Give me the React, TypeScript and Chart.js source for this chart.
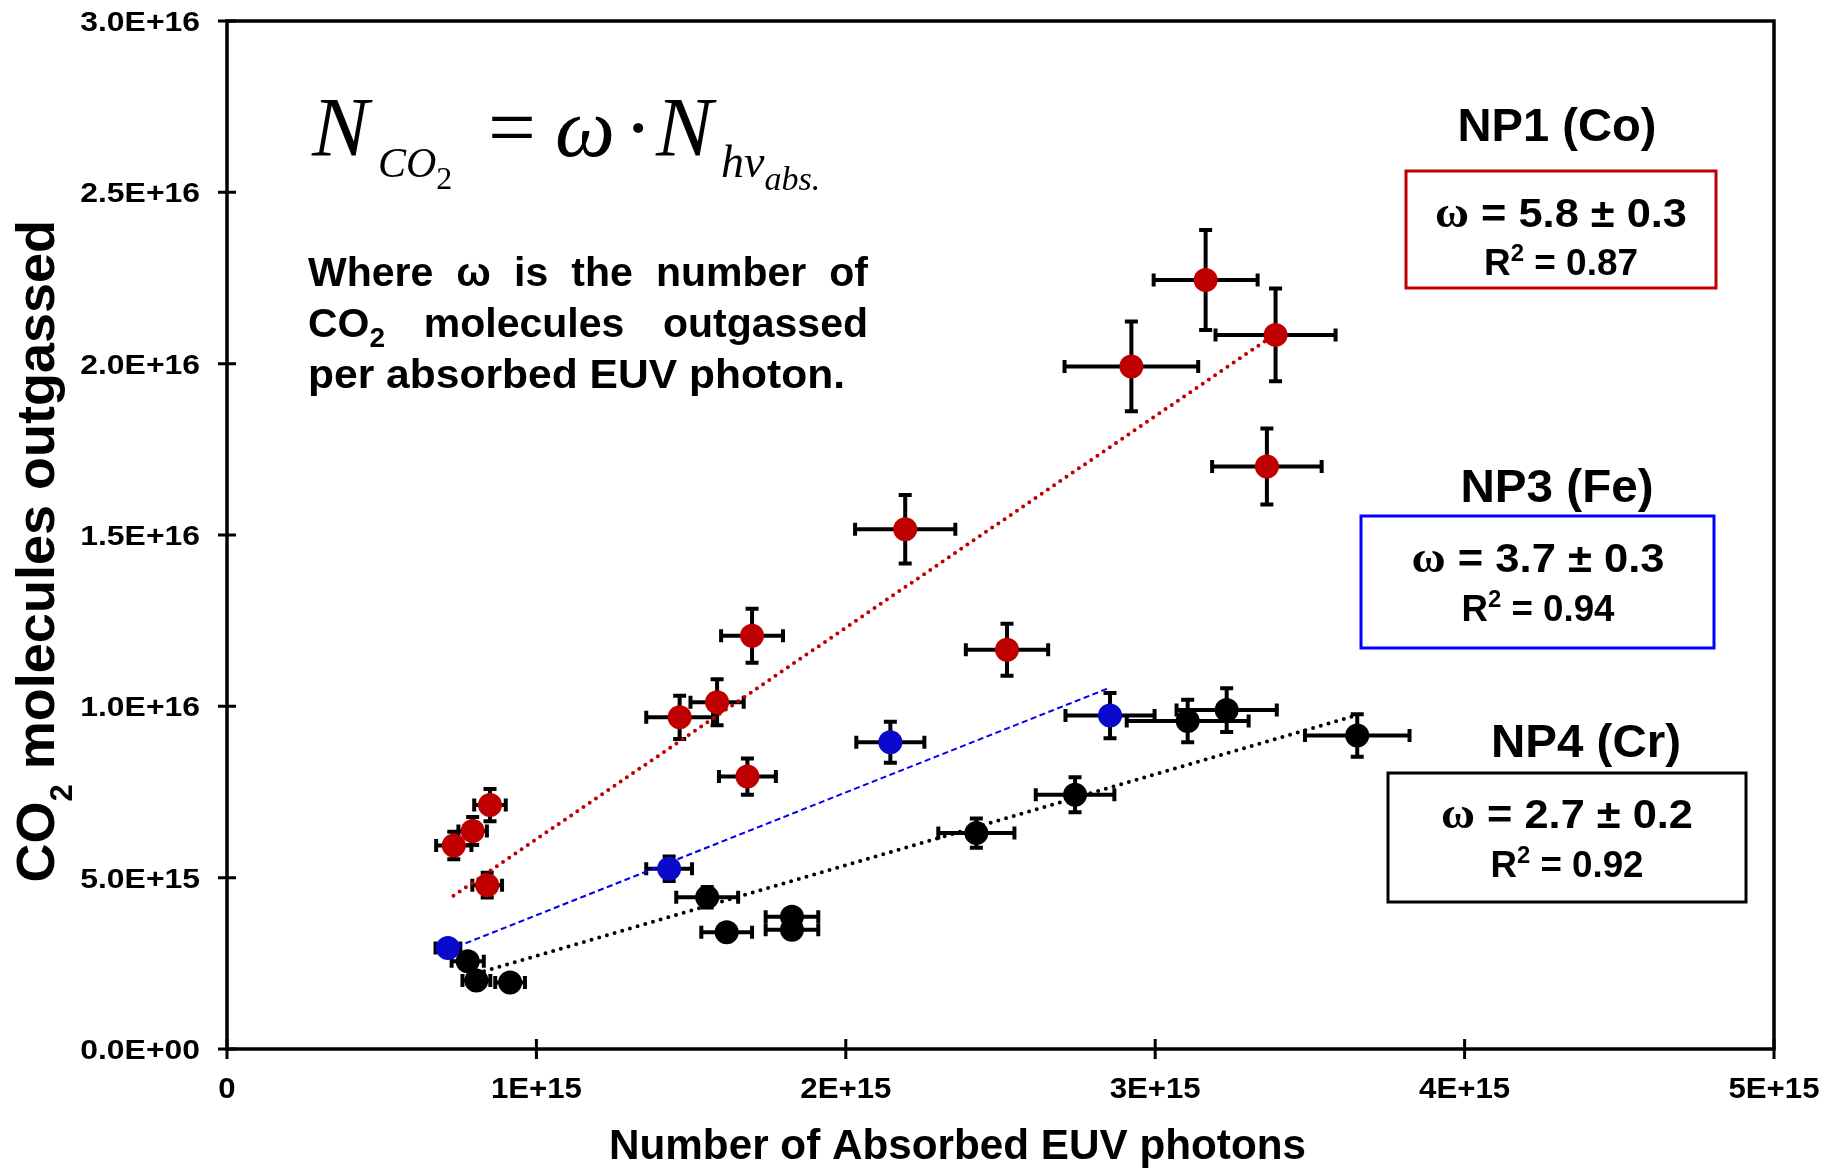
import React, { useEffect, useRef } from 'react';
import { Chart, registerables } from 'chart.js';

Chart.register(...registerables);

const UNIT = 1e15;

// NP1 (Co) — values in units of 1E+15
const coX = [0.733, 0.794, 0.850, 0.841, 1.463, 1.584, 1.697, 1.682, 2.192, 2.521, 2.923, 3.163, 3.389, 3.361];
const coY = [5.94, 6.36, 7.12, 4.78, 9.68, 10.12, 12.06, 7.95, 15.17, 11.65, 19.92, 22.44, 20.84, 17.0];
const coXErr = [0.057, 0.046, 0.051, 0.048, 0.108, 0.086, 0.1, 0.092, 0.162, 0.133, 0.216, 0.168, 0.194, 0.177];
const coYErr = [0.4, 0.41, 0.47, 0.36, 0.63, 0.67, 0.79, 0.53, 1.0, 0.76, 1.31, 1.46, 1.35, 1.11];

// NP3 (Fe)
const feX = [0.714, 1.429, 2.144, 2.854];
const feY = [2.95, 5.26, 8.95, 9.73];
const feXErr = [0.04, 0.074, 0.11, 0.144];
const feYErr = [0.15, 0.36, 0.6, 0.66];

// NP4 (Cr)
const crX = [0.778, 0.806, 0.915, 1.552, 1.615, 1.826, 1.826, 2.422, 2.741, 3.105, 3.231, 3.653];
const crY = [2.56, 2.0, 1.94, 4.43, 3.41, 3.86, 3.48, 6.3, 7.42, 9.57, 9.89, 9.15];
const crXErr = [0.052, 0.045, 0.048, 0.1, 0.082, 0.085, 0.085, 0.123, 0.127, 0.197, 0.162, 0.169];
const crYErr = [0.15, 0.15, 0.15, 0.3, 0.2, 0.15, 0.15, 0.43, 0.51, 0.62, 0.64, 0.62];

// Linear fit lines (end points)
const coFitX = [0.732, 3.365];
const coFitY = [4.47, 20.72];
const feFitX = [0.714, 2.852];
const feFitY = [2.88, 10.54];
const crFitX = [0.806, 3.651];
const crFitY = [2.2, 9.74];

const xTickLabels = ['0', '1E+15', '2E+15', '3E+15', '4E+15', '5E+15'];
const yTickLabels = ['0.0E+00', '5.0E+15', '1.0E+16', '1.5E+16', '2.0E+16', '2.5E+16', '3.0E+16'];

const seriesNames = ['NP1 (Co)', 'NP3 (Fe)', 'NP4 (Cr)'];
const omegaTexts = [' = 5.8 \u00b1 0.3', ' = 3.7 \u00b1 0.3', ' = 2.7 \u00b1 0.2'];
const r2Texts = [' = 0.87', ' = 0.94', ' = 0.92'];

const RED = '#C00000';
const BLUE_PT = '#0A0ACC';
const BLUE_LINE = '#0000EE';
const BLUE_BOX = '#0000FF';
const BLACK = '#000000';

const SANS = '"Liberation Sans", Arial, Helvetica, sans-serif';
const SERIF = '"Liberation Serif", "Times New Roman", Times, serif';

type Part = { t: string; font: string; dy?: number };

function partsWidth(ctx: CanvasRenderingContext2D, parts: Part[]) {
  let w = 0;
  for (const p of parts) {
    ctx.font = p.font;
    w += ctx.measureText(p.t).width;
  }
  return w;
}

function drawPartsAt(ctx: CanvasRenderingContext2D, parts: Part[], x: number, y: number) {
  let cx = x;
  ctx.textAlign = 'left';
  ctx.textBaseline = 'alphabetic';
  for (const p of parts) {
    ctx.font = p.font;
    ctx.fillText(p.t, cx, y + (p.dy || 0));
    cx += ctx.measureText(p.t).width;
  }
}

// draw parts scaled horizontally to a target width
function drawFit(ctx: CanvasRenderingContext2D, parts: Part[], x: number, y: number, target: number, align: 'center' | 'left' | 'right') {
  const w = partsWidth(ctx, parts);
  const s = target / w;
  ctx.save();
  const start = align === 'center' ? x - target / 2 : align === 'right' ? x - target : x;
  ctx.translate(start, y);
  ctx.scale(s, 1);
  drawPartsAt(ctx, parts, 0, 0);
  ctx.restore();
}

// draw text with a fixed horizontal stretch factor
function drawStretched(ctx: CanvasRenderingContext2D, text: string, font: string, sx: number, x: number, y: number, align: 'center' | 'right') {
  ctx.font = font;
  const w = ctx.measureText(text).width * sx;
  drawFit(ctx, [{ t: text, font }], x, y, w, align);
}

function pts(xs: number[], ys: number[]) {
  return xs.map((x, i) => ({ x: x * UNIT, y: ys[i] * UNIT }));
}

const errorBarPlugin = {
  id: 'errorBars',
  beforeDatasetsDraw(chart: any) {
    const { ctx } = chart;
    const xs = chart.scales.x;
    const ys = chart.scales.y;
    const cap = 6.5;
    ctx.save();
    ctx.strokeStyle = '#000';
    ctx.lineWidth = 4;
    ctx.lineCap = 'butt';
    chart.data.datasets.forEach((ds: any) => {
      if (!ds.xErr) return;
      ds.data.forEach((p: any, i: number) => {
        const px = xs.getPixelForValue(p.x);
        const py = ys.getPixelForValue(p.y);
        const xl = xs.getPixelForValue(p.x - ds.xErr[i]);
        const xr = xs.getPixelForValue(p.x + ds.xErr[i]);
        const yt = ys.getPixelForValue(p.y + ds.yErr[i]);
        const yb = ys.getPixelForValue(p.y - ds.yErr[i]);
        ctx.beginPath();
        ctx.moveTo(xl, py); ctx.lineTo(xr, py);
        ctx.moveTo(xl, py - cap); ctx.lineTo(xl, py + cap);
        ctx.moveTo(xr, py - cap); ctx.lineTo(xr, py + cap);
        ctx.moveTo(px, yt); ctx.lineTo(px, yb);
        ctx.moveTo(px - cap, yt); ctx.lineTo(px + cap, yt);
        ctx.moveTo(px - cap, yb); ctx.lineTo(px + cap, yb);
        ctx.stroke();
      });
    });
    ctx.restore();
  },
};

const frameAndTextPlugin = {
  id: 'frameAndText',
  afterDraw(chart: any) {
    const { ctx, chartArea } = chart;
    const xs = chart.scales.x;
    const ys = chart.scales.y;
    const { left, right, top, bottom } = chartArea;
    ctx.save();
    // frame
    ctx.strokeStyle = '#000';
    ctx.lineWidth = 3.5;
    ctx.strokeRect(left, top, right - left, bottom - top);
    // tick marks crossing the axes
    ctx.lineWidth = 3;
    ctx.beginPath();
    xs.ticks.forEach((t: any) => {
      const px = xs.getPixelForValue(t.value);
      ctx.moveTo(px, bottom - 10); ctx.lineTo(px, bottom + 10);
    });
    ys.ticks.forEach((t: any) => {
      const py = ys.getPixelForValue(t.value);
      ctx.moveTo(left - 9, py); ctx.lineTo(left + 9, py);
    });
    ctx.stroke();

    ctx.fillStyle = '#000';

    // tick labels
    xs.ticks.forEach((t: any) => {
      const px = xs.getPixelForValue(t.value);
      const lab = xTickLabels[Math.round(t.value / UNIT)];
      drawStretched(ctx, lab, `bold 29px ${SANS}`, 1.075, px, bottom + 49, 'center');
    });
    ys.ticks.forEach((t: any) => {
      const py = ys.getPixelForValue(t.value);
      const lab = yTickLabels[Math.round(t.value / (5 * UNIT))];
      drawStretched(ctx, lab, `bold 27.5px ${SANS}`, 1.16, left - 27, py + 10, 'right');
    });

    // Axis titles
    drawFit(ctx, [{ t: 'Number of Absorbed EUV photons', font: `bold 42px ${SANS}` }], 609, 1159, 697, 'left');
    const yParts: Part[] = [
      { t: 'CO', font: `bold 54px ${SANS}` },
      { t: '2', font: `bold 31px ${SANS}`, dy: 18 },
      { t: ' molecules outgassed', font: `bold 54px ${SANS}` },
    ];
    const yLen = partsWidth(ctx, yParts);
    ctx.save();
    ctx.translate(53.5, 220 + yLen);
    ctx.rotate(-Math.PI / 2);
    drawPartsAt(ctx, yParts, 0, 0);
    ctx.restore();

    // Equation
    const EQ = 85;
    drawPartsAt(ctx, [{ t: 'N', font: `italic ${EQ}px ${SERIF}` }], 312, 156);
    drawPartsAt(ctx, [
      { t: 'CO', font: `italic 42px ${SERIF}` },
      { t: '2', font: `32px ${SERIF}`, dy: 12 },
    ], 378, 177);
    drawPartsAt(ctx, [{ t: '=', font: `${EQ}px ${SERIF}` }], 488, 156);
    drawPartsAt(ctx, [{ t: '\u03c9', font: `italic ${EQ}px ${SERIF}` }], 555, 156);
    drawPartsAt(ctx, [{ t: '\u00b7', font: `${EQ}px ${SERIF}` }], 624, 156);
    drawPartsAt(ctx, [{ t: 'N', font: `italic ${EQ}px ${SERIF}` }], 656, 156);
    drawPartsAt(ctx, [
      { t: 'hv', font: `italic 46px ${SERIF}` },
      { t: 'abs.', font: `italic 34px ${SERIF}`, dy: 13 },
    ], 721, 177);

    // Paragraph (justified)
    const PF = `bold 41px ${SANS}`;
    const PL = 308;
    const PR = 868;
    const para: { words: Part[][]; base: number; justify: boolean }[] = [
      { words: ['Where', '\u03c9', 'is', 'the', 'number', 'of'].map((w) => [{ t: w, font: PF }]), base: 286, justify: true },
      {
        words: [
          [{ t: 'CO', font: PF }, { t: '2', font: `bold 28px ${SANS}`, dy: 10 }],
          [{ t: 'molecules', font: PF }],
          [{ t: 'outgassed', font: PF }],
        ],
        base: 337,
        justify: true,
      },
    ];
    para.forEach((line) => {
      const widths = line.words.map((w) => partsWidth(ctx, w));
      const total = widths.reduce((a, b) => a + b, 0);
      const gap = line.justify && line.words.length > 1 ? (PR - PL - total) / (line.words.length - 1) : 0;
      let x = PL;
      line.words.forEach((w, i) => {
        drawPartsAt(ctx, w, x, line.base);
        x += widths[i] + gap;
      });
    });
    drawFit(ctx, [{ t: 'per absorbed EUV photon.', font: PF }], PL, 388, 537, 'left');

    // Series boxes
    const boxes = [
      { color: RED, title: { cx: 1557, base: 141, w: 199 }, rect: [1406, 171, 1716, 288], l1: { cx: 1561, base: 227, w: 252 }, l2: { cx: 1561, base: 275, w: 154 } },
      { color: BLUE_BOX, title: { cx: 1557, base: 502, w: 193 }, rect: [1361, 516, 1714, 648], l1: { cx: 1538, base: 572, w: 253 }, l2: { cx: 1538, base: 621, w: 153 } },
      { color: BLACK, title: { cx: 1586, base: 757, w: 190 }, rect: [1388, 773, 1746, 902], l1: { cx: 1567, base: 828, w: 252 }, l2: { cx: 1567, base: 877, w: 153 } },
    ];
    boxes.forEach((b, i) => {
      ctx.fillStyle = '#000';
      drawFit(ctx, [{ t: seriesNames[i], font: `bold 47px ${SANS}` }], b.title.cx, b.title.base, b.title.w, 'center');
      ctx.strokeStyle = b.color;
      ctx.lineWidth = 3;
      const [x0, y0, x1, y1] = b.rect;
      ctx.strokeRect(x0, y0, x1 - x0, y1 - y0);
      drawFit(ctx, [
        { t: '\u03c9', font: `bold 44px ${SERIF}` },
        { t: omegaTexts[i], font: `bold 41px ${SANS}` },
      ], b.l1.cx, b.l1.base, b.l1.w, 'center');
      drawFit(ctx, [
        { t: 'R', font: `bold 37px ${SANS}` },
        { t: '2', font: `bold 24px ${SANS}`, dy: -14 },
        { t: r2Texts[i], font: `bold 37px ${SANS}` },
      ], b.l2.cx, b.l2.base, b.l2.w, 'center');
    });

    ctx.restore();
  },
};

export default function App() {
  const ref = useRef<HTMLCanvasElement | null>(null);

  useEffect(() => {
    document.body.style.margin = '0';
    const canvas = ref.current;
    if (!canvas) return;

    const scatterBase = { pointRadius: 12, pointHoverRadius: 12, pointBorderWidth: 0, showLine: false, order: 0 };
    const fitBase = { showLine: true, pointRadius: 0, pointHoverRadius: 0, fill: false, order: 1 };

    const chart = new Chart(canvas, {
      type: 'scatter',
      data: {
        datasets: [
          {
            ...scatterBase, label: 'NP1 (Co)', data: pts(coX, coY),
            xErr: coXErr.map((v) => v * UNIT), yErr: coYErr.map((v) => v * UNIT),
            backgroundColor: RED, borderColor: RED, pointBackgroundColor: RED,
          } as any,
          {
            ...scatterBase, label: 'NP3 (Fe)', data: pts(feX, feY),
            xErr: feXErr.map((v) => v * UNIT), yErr: feYErr.map((v) => v * UNIT),
            backgroundColor: BLUE_PT, borderColor: BLUE_PT, pointBackgroundColor: BLUE_PT,
          } as any,
          {
            ...scatterBase, label: 'NP4 (Cr)', data: pts(crX, crY),
            xErr: crXErr.map((v) => v * UNIT), yErr: crYErr.map((v) => v * UNIT),
            backgroundColor: BLACK, borderColor: BLACK, pointBackgroundColor: BLACK,
          } as any,
          {
            ...fitBase, label: 'NP1 fit', data: pts(coFitX, coFitY),
            borderColor: RED, borderWidth: 4, borderDash: [0, 7.5], borderCapStyle: 'round',
          } as any,
          {
            ...fitBase, label: 'NP3 fit', data: pts(feFitX, feFitY),
            borderColor: BLUE_LINE, borderWidth: 2, borderDash: [6, 3.5], borderCapStyle: 'butt',
          } as any,
          {
            ...fitBase, label: 'NP4 fit', data: pts(crFitX, crFitY),
            borderColor: BLACK, borderWidth: 4, borderDash: [0, 8], borderCapStyle: 'round',
          } as any,
        ],
      },
      options: {
        responsive: false,
        animation: false,
        devicePixelRatio: 1,
        events: [],
        layout: { autoPadding: false, padding: { top: 21, right: 61, left: 0, bottom: 0 } },
        plugins: { legend: { display: false }, tooltip: { enabled: false }, title: { display: false } },
        scales: {
          x: {
            type: 'linear',
            min: 0,
            max: 5 * UNIT,
            grid: { display: false, drawTicks: false },
            border: { display: false },
            ticks: { stepSize: UNIT, autoSkip: false, display: false },
            afterFit: (s: any) => { s.height = 119; },
          },
          y: {
            type: 'linear',
            min: 0,
            max: 30 * UNIT,
            grid: { display: false, drawTicks: false },
            border: { display: false },
            ticks: { stepSize: 5 * UNIT, autoSkip: false, display: false },
            afterFit: (s: any) => { s.width = 227; },
          },
        },
      } as any,
      plugins: [errorBarPlugin, frameAndTextPlugin],
    });

    return () => chart.destroy();
  }, []);

  return (
    <div style={{ width: 1835, height: 1168, background: '#fff' }}>
      <canvas ref={ref} width={1835} height={1168} style={{ display: 'block' }} />
    </div>
  );
}
